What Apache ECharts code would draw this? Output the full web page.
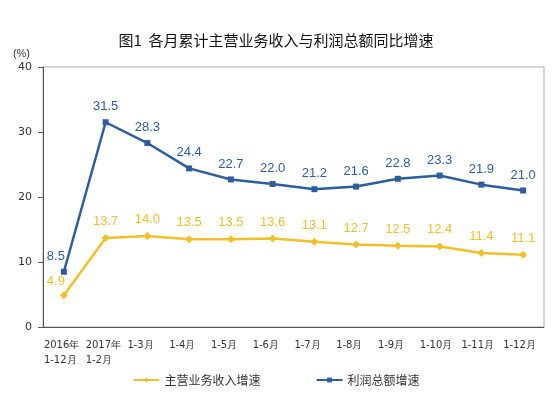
<!DOCTYPE html>
<html>
<head>
<meta charset="utf-8">
<script src="https://cdn.jsdelivr.net/npm/echarts@6/dist/echarts.min.js"></script>
<style>
  html, body { margin: 0; padding: 0; background: #fff; }
  #main { width: 552px; height: 397px; }
</style>
</head>
<body>
<div id="main"></div>
<script>
var months = ['2016年\n1-12月', '2017年\n1-2月', '1-3月', '1-4月', '1-5月', '1-6月',
    '1-7月', '1-8月', '1-9月', '1-10月', '1-11月', '1-12月'];
var revenueGrowth = [4.9, 13.7, 14.0, 13.5, 13.5, 13.6, 13.1, 12.7, 12.5, 12.4, 11.4, 11.1];
var profitGrowth = [8.5, 31.5, 28.3, 24.4, 22.7, 22.0, 21.2, 21.6, 22.8, 23.3, 21.9, 21.0];

var yellow = '#f0bf2a';
var blue = '#2c5d9e';
var font = '"Noto Sans CJK SC", sans-serif';

// first point label sits up and to the left of the marker
function withFirstOffset(values, offset) {
    return values.map(function (v, i) {
        if (i === 0) return { value: v, label: { offset: offset } };
        return v;
    });
}

var chart = echarts.init(document.getElementById('main'));

var option = {
    backgroundColor: '#fff',
    animation: false,
    title: {
        text: '图1  各月累计主营业务收入与利润总额同比增速',
        left: 'center',
        top: 28,
        textStyle: {
            fontFamily: font,
            fontSize: 15,
            fontWeight: 'normal',
            color: '#111'
        }
    },
    legend: {
        bottom: 6,
        left: 'center',
        itemGap: 55,
        itemWidth: 26,
        itemHeight: 6,
        textStyle: { fontFamily: font, fontSize: 12, color: '#333' },
        data: ['主营业务收入增速', '利润总额增速']
    },
    grid: {
        left: 43,
        right: 8,
        top: 67,
        bottom: 70,
        show: true,
        borderColor: '#aaa',
        borderWidth: 1
    },
    xAxis: {
        type: 'category',
        data: months,
        boundaryGap: true,
        axisLine: { lineStyle: { color: '#555' } },
        axisTick: { lineStyle: { color: '#555' } },
        axisLabel: {
            interval: 0,
            margin: 11,
            color: '#333',
            fontFamily: '"DejaVu Sans", sans-serif',
            fontSize: 10,
            lineHeight: 15,
            align: 'left',
            padding: [0, 0, 0, -20]
        }
    },
    yAxis: {
        type: 'value',
        name: '(%)',
        nameGap: 8,
        nameTextStyle: { color: '#333', fontSize: 11, align: 'right', padding: [0, 13, 0, 0] },
        min: 0,
        max: 40,
        interval: 10,
        splitLine: { show: false },
        axisLine: { show: true, lineStyle: { color: '#555' } },
        axisTick: { show: true, lineStyle: { color: '#555' } },
        axisLabel: { color: '#333', fontSize: 11, fontFamily: '"DejaVu Sans", sans-serif', margin: 11 }
    },
    series: [
        {
            name: '主营业务收入增速',
            type: 'line',
            data: withFirstOffset(revenueGrowth, [-8, 3]),
            symbol: 'diamond',
            symbolSize: 8,
            color: yellow,
            lineStyle: { width: 2.5, color: yellow },
            label: {
                show: true,
                position: 'top',
                distance: 6,
                color: yellow,
                fontSize: 13,
                fontFamily: '"Liberation Sans", Arial, sans-serif',
                formatter: function (p) { return p.value.toFixed(1); }
            }
        },
        {
            name: '利润总额增速',
            type: 'line',
            data: withFirstOffset(profitGrowth, [-8, 0]),
            symbol: 'rect',
            symbolSize: 6,
            color: blue,
            lineStyle: { width: 2.5, color: blue },
            label: {
                show: true,
                position: 'top',
                distance: 6,
                color: blue,
                fontSize: 13,
                fontFamily: '"Liberation Sans", Arial, sans-serif',
                formatter: function (p) { return p.value.toFixed(1); }
            }
        }
    ]
};

chart.setOption(option);
</script>
</body>
</html>
